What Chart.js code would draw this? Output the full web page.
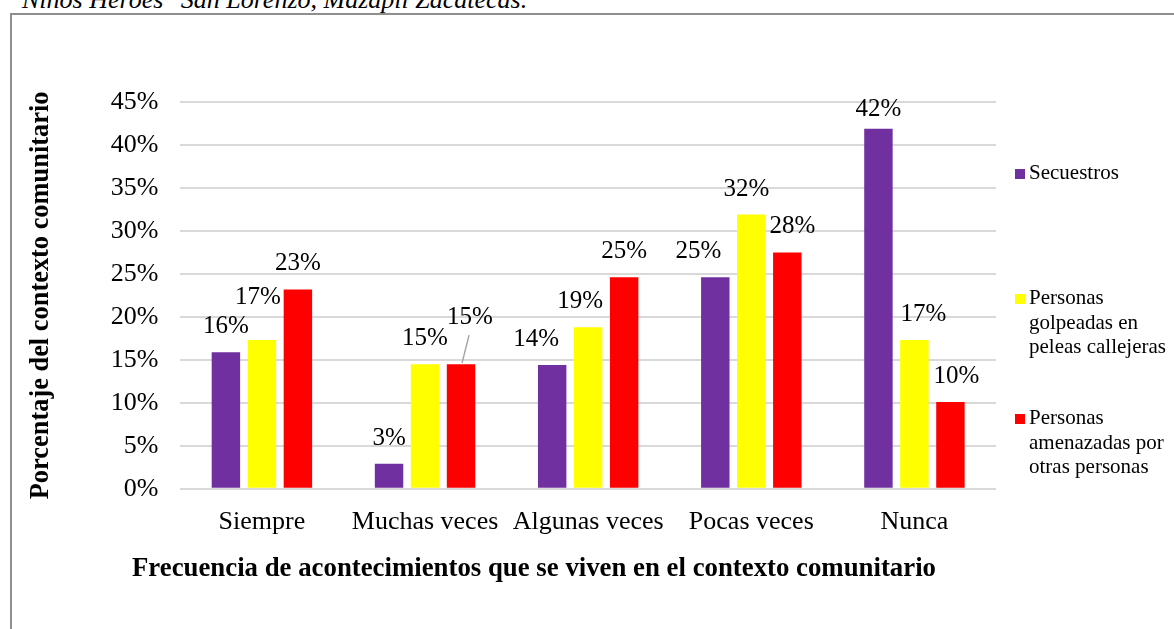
<!DOCTYPE html>
<html>
<head>
<meta charset="utf-8">
<script src="https://cdn.jsdelivr.net/npm/chart.js@4.4.1/dist/chart.umd.min.js"></script>
<style>
  html, body { margin:0; padding:0; background:#fff; overflow:hidden; }
  body { width:1174px; height:629px; position:relative; font-family:"Liberation Serif","Times New Roman",serif; }
  #caption { position:absolute; left:22px; top:-13px; font-size:26px; line-height:26px; font-style:italic; white-space:nowrap; color:#000; }
  #frame { position:absolute; left:10px; top:13px; width:1200px; height:700px; border-left:2px solid #8f8f8f; border-top:2px solid #8f8f8f; }
  #wrap { position:absolute; left:0; top:0; width:1174px; height:629px; }
  #legend { position:absolute; left:1015px; top:0; width:160px; }
  .item { position:absolute; left:0; font-size:21px; line-height:24.5px; color:#000; }
  .item .sw { position:absolute; left:0; top:9px; width:10px; height:10px; }
  .item .tx { margin-left:14px; display:block; }
</style>
</head>
<body>
<div id="caption">Niños Héroes" San Lorenzo, Mazapil Zacatecas.</div>
<div id="frame"></div>
<div id="wrap"><canvas id="c"></canvas></div>
<div id="legend"></div>
<script>
const categories = ['Siempre', 'Muchas veces', 'Algunas veces', 'Pocas veces', 'Nunca'];
const seriesNames = ['Secuestros', 'Personas golpeadas en peleas callejeras', 'Personas amenazadas por otras personas'];
const secuestros = [15.9, 2.9, 14.4, 24.6, 41.9];
const golpeadas = [17.3, 14.5, 18.8, 31.9, 17.3];
const amenazadas = [23.2, 14.5, 24.6, 27.5, 10.1];
const yTicks = [0, 5, 10, 15, 20, 25, 30, 35, 40, 45];

const colors = ['#7030A0', '#FFFF00', '#FF0000'];
const legendLines = [['Secuestros'], ['Personas', 'golpeadas en', 'peleas callejeras'], ['Personas', 'amenazadas por', 'otras personas']];
const legendTops = [160, 285, 405];
const serif = '"Liberation Serif", "Times New Roman", serif';

// label nudges (x, y) for data labels that Excel moved aside
const labelNudge = { '0-2': [-16, 0], '1-2': [-8, 0], '0-3': [-17, 0], '1-3': [-5, 0], '2-3': [5, 0], '1-4': [9, 0], '2-4': [6, 0], '0-4': [0, 6], '1-0': [-4, -17] };

const legendEl = document.getElementById('legend');
seriesNames.forEach((name, i) => {
  const d = document.createElement('div');
  d.className = 'item';
  d.style.top = legendTops[i] + 'px';
  d.innerHTML = '<span class="sw" style="background:' + colors[i] + '"></span><span class="tx">' + legendLines[i].join('<br>') + '</span>';
  legendEl.appendChild(d);
});

const dataLabels = {
  id: 'dataLabels',
  afterDatasetsDraw(chart) {
    const ctx = chart.ctx;
    ctx.save();
    ctx.font = '25px ' + serif;
    ctx.fillStyle = '#000';
    ctx.textAlign = 'center';
    ctx.textBaseline = 'alphabetic';
    chart.data.datasets.forEach((ds, di) => {
      chart.getDatasetMeta(di).data.forEach((bar, i) => {
        const txt = Math.round(ds.data[i]) + '%';
        if (di === 2 && i === 1) {
          // label pulled out with a leader line
          ctx.strokeStyle = '#a6a6a6';
          ctx.lineWidth = 1.5;
          ctx.beginPath();
          ctx.moveTo(bar.x + 1, bar.y - 1);
          ctx.lineTo(bar.x + 8, bar.y - 29);
          ctx.stroke();
          ctx.fillText(txt, bar.x + 9, bar.y - 40);
          return;
        }
        const n = labelNudge[di + '-' + i] || [0, 0];
        ctx.fillText(txt, bar.x + n[0], bar.y - 19 + n[1]);
      });
    });
    ctx.restore();
  }
};

const xTitle = {
  id: 'xTitle',
  afterDraw(chart) {
    const ctx = chart.ctx;
    ctx.save();
    ctx.font = 'bold 26.8px ' + serif;
    ctx.fillStyle = '#000';
    ctx.textAlign = 'center';
    ctx.textBaseline = 'alphabetic';
    ctx.fillText('Frecuencia de acontecimientos que se viven en el contexto comunitario', 534, 576);
    ctx.restore();
  }
};

new Chart(document.getElementById('c'), {
  type: 'bar',
  data: {
    labels: categories,
    datasets: [
      { label: seriesNames[0], data: secuestros, backgroundColor: colors[0] },
      { label: seriesNames[1], data: golpeadas, backgroundColor: colors[1] },
      { label: seriesNames[2], data: amenazadas, backgroundColor: colors[2] }
    ]
  },
  options: {
    responsive: true,
    maintainAspectRatio: false,
    animation: false,
    layout: { padding: { left: 25, right: 178, top: 102, bottom: 81 } },
    datasets: { bar: { categoryPercentage: 0.662, barPercentage: 0.79 } },
    plugins: { legend: { display: false }, tooltip: { enabled: false } },
    scales: {
      x: {
        grid: { display: false },
        border: { display: false },
        ticks: { color: '#000', font: { family: serif, size: 26 }, padding: 10, maxRotation: 0, autoSkip: false }
      },
      y: {
        min: 0,
        max: 45,
        afterBuildTicks(axis) { axis.ticks = yTicks.map(v => ({ value: v })); },
        grid: { color: '#d9d9d9', lineWidth: 2, drawTicks: false },
        border: { display: false },
        ticks: { color: '#000', font: { family: serif, size: 26 }, padding: 22, callback: v => v + '%' },
        title: { display: true, text: 'Porcentaje del contexto comunitario', color: '#000', font: { family: serif, size: 26.4, weight: 'bold' }, padding: { top: 0, bottom: 32 } }
      }
    }
  },
  plugins: [dataLabels, xTitle]
});
</script>
</body>
</html>
